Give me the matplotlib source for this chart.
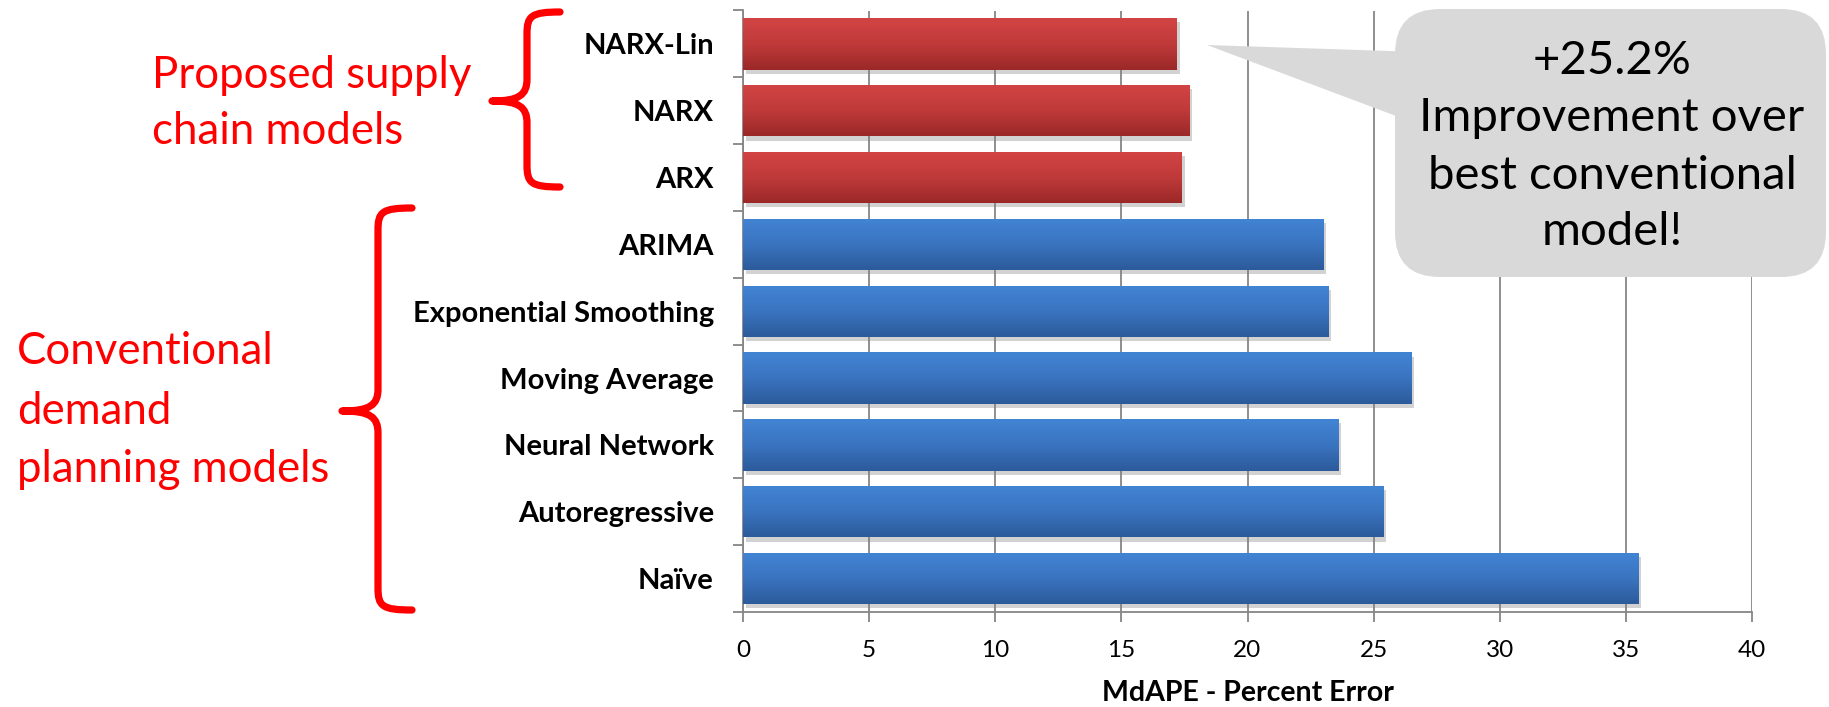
import numpy as np
import matplotlib
matplotlib.use('Agg')
import matplotlib.pyplot as plt
from matplotlib.colors import LinearSegmentedColormap
from matplotlib.patches import FancyBboxPatch, Polygon, PathPatch
from matplotlib.path import Path
import matplotlib.patheffects as pe

plt.rcParams['font.family'] = ['Lato', 'DejaVu Sans']

# median absolute percentage error for each forecasting model
models = ['NARX-Lin', 'NARX', 'ARX', 'ARIMA', 'Exponential Smoothing',
          'Moving Average', 'Neural Network', 'Autoregressive', 'Naïve']
mdape = [17.2, 17.7, 17.4, 23.0, 23.2, 26.5, 23.6, 25.4, 35.5]
proposed = ['NARX-Lin', 'NARX', 'ARX']
x_ticks = [0, 5, 10, 15, 20, 25, 30, 35, 40]

W, H = 1829, 707
fig = plt.figure(figsize=(W / 100, H / 100), dpi=100)
fig.set_facecolor('white')

ax = fig.add_axes([743 / W, 1 - 612 / H, (1752 - 743) / W, (612 - 10.5) / H])

red_cmap = LinearSegmentedColormap.from_list('red_bar', ['#d24444', '#c03a3a', '#9b2828'])
blue_cmap = LinearSegmentedColormap.from_list('blue_bar', ['#4284d4', '#3a74c0', '#2c5b9b'])

ypos = np.arange(len(models))
bar_h = 0.77
grad = np.linspace(0, 1, 64).reshape(-1, 1)
shadow = [pe.SimplePatchShadow(offset=(2, -3), shadow_rgbFace='#808080', alpha=0.35), pe.Normal()]
bars = ax.barh(ypos, mdape, height=bar_h, zorder=3)
for name, y, v, bar in zip(models, ypos, mdape, bars):
    cmap = red_cmap if name in proposed else blue_cmap
    bar.set_facecolor(cmap(0.5))
    bar.set_edgecolor('none')
    bar.set_path_effects(shadow)
    im = ax.imshow(grad, extent=[0, v, y + bar_h / 2, y - bar_h / 2],
                   aspect='auto', cmap=cmap, zorder=4, interpolation='bilinear')
    im.set_clip_path(bar)

ax.set_xlim(0, 40)
ax.set_ylim(len(models) - 0.5, -0.5)
ax.set_xticks(x_ticks)
ax.set_xticklabels([str(t) for t in x_ticks], fontsize=17.5)
ax.set_yticks(ypos)
ax.set_yticklabels(models, fontsize=21, fontweight='bold')
ax.set_yticks(np.arange(len(models) + 1) - 0.5, minor=True)
ax.tick_params(axis='y', which='major', length=0, pad=21)
ax.tick_params(axis='y', which='minor', length=7, color='#868686', width=1.3)
ax.tick_params(axis='x', length=7, color='#868686', width=1.3, pad=13)
ax.grid(axis='x', color='#868686', lw=1.3, zorder=1)
for side in ['top', 'right']:
    ax.spines[side].set_visible(False)
for side in ['left', 'bottom']:
    ax.spines[side].set_color('#868686')
    ax.spines[side].set_linewidth(1.3)
ax.set_xlabel('MdAPE - Percent Error', fontsize=20.5, fontweight='bold', labelpad=14)

# overlay in pixel units for the annotations
ov = fig.add_axes([0, 0, 1, 1], zorder=5)
ov.set_xlim(0, W)
ov.set_ylim(H, 0)
ov.axis('off')
ov.patch.set_alpha(0)


def brace(x_hook, x_line, x_tip, top, mid, bottom, r=22):
    verts = [(x_hook, top),
             (x_line + 4, top), (x_line, top + 4), (x_line, top + r),
             (x_line, mid - r),
             (x_line, mid - 6), (x_line - 8, mid), (x_tip, mid),
             (x_line - 8, mid), (x_line, mid + 6), (x_line, mid + r),
             (x_line, bottom - r),
             (x_line, bottom - 4), (x_line + 4, bottom), (x_hook, bottom)]
    codes = [Path.MOVETO,
             Path.CURVE4, Path.CURVE4, Path.CURVE4,
             Path.LINETO,
             Path.CURVE4, Path.CURVE4, Path.CURVE4,
             Path.CURVE4, Path.CURVE4, Path.CURVE4,
             Path.LINETO,
             Path.CURVE4, Path.CURVE4, Path.CURVE4]
    ov.add_patch(PathPatch(Path(verts, codes), fill=False, edgecolor='#ff0000',
                           lw=5.2, capstyle='round', joinstyle='round'))


brace(560, 527, 492, 12, 101, 187)
brace(412, 378, 342, 208, 411, 610)

ov.text(152, 75, 'Proposed supply', color='#ff0000', fontsize=31.5, va='center', ha='left')
ov.text(152, 132, 'chain models', color='#ff0000', fontsize=31.5, va='center', ha='left')
ov.text(17, 351, 'Conventional', color='#ff0000', fontsize=31.5, va='center', ha='left')
ov.text(17, 411, 'demand', color='#ff0000', fontsize=31.5, va='center', ha='left')
ov.text(17, 470, 'planning models', color='#ff0000', fontsize=31.5, va='center', ha='left')

# callout bubble
ov.add_patch(Polygon([(1207, 45), (1420, 52), (1420, 125)], closed=True,
                     facecolor='#d9d9d9', edgecolor='none'))
ov.add_patch(FancyBboxPatch((1395, 9), 431, 268, boxstyle='round,pad=0,rounding_size=45',
                            facecolor='#d9d9d9', edgecolor='none'))
for txt, yy in zip(['+25.2%', 'Improvement over', 'best conventional', 'model!'],
                   [61, 118, 176, 232]):
    ov.text(1612, yy, txt, fontsize=34, ha='center', va='center', color='black')

fig.savefig('out.png', dpi=100)
